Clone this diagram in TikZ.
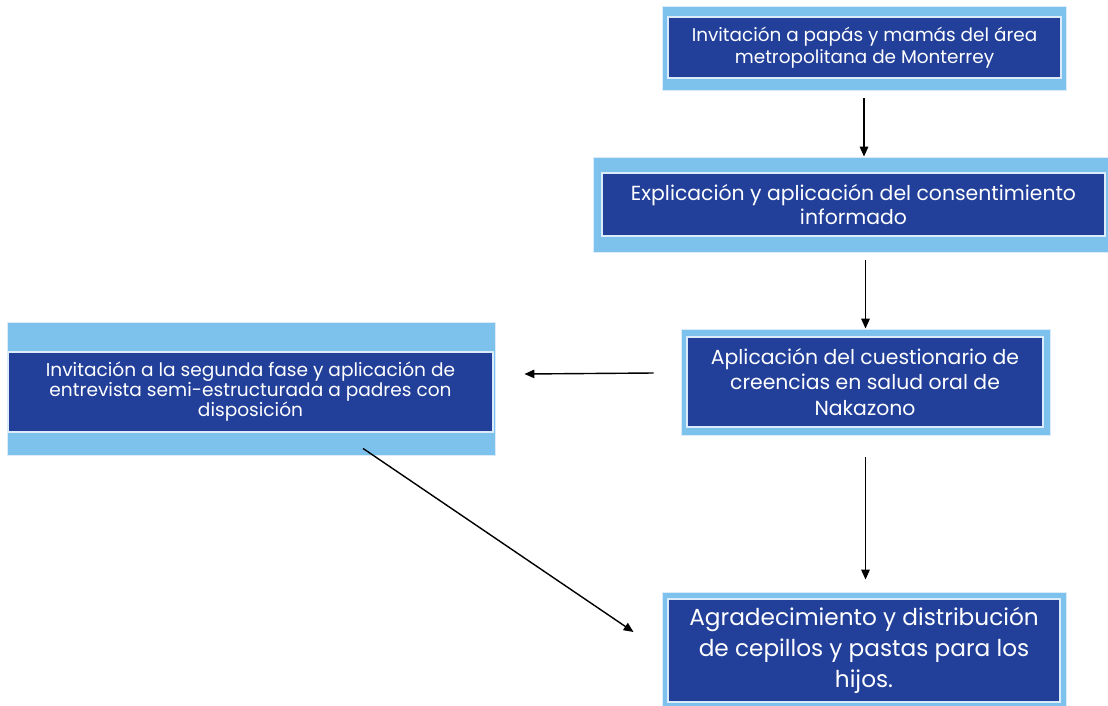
\documentclass[tikz,border=0pt]{standalone}
\usepackage{fontspec}
\setmainfont{Poppins}
\usetikzlibrary{arrows.meta}
\definecolor{flowLight}{HTML}{7DC1ED}
\definecolor{flowDark}{HTML}{22409A}
\definecolor{flowEdge}{HTML}{DCEBFA}

\begin{document}
\begin{tikzpicture}[x=0.025cm, y=-0.025cm,
  outerbox/.style={draw=flowEdge, line width=0.6pt, fill=flowLight, inner sep=0pt},
  innerbox/.style={draw=flowEdge, line width=1.2pt, fill=flowDark, text=white,
                   align=center, inner sep=0pt},
  arr/.style={-{Triangle[length=7pt,width=6pt]}, line width=1pt}]
\useasboundingbox (0,0) rectangle (1108,705);
% ---- boxes
\node[outerbox, minimum width=10.1cm, minimum height=2.1cm] (b1o) at (864,48) {};
\node[innerbox, minimum width=9.825cm, minimum height=1.525cm,
      font=\fontsize{13.1}{15.6}\selectfont] (b1) at (864.5,47.5)
      {Invitación a papás y mamás del área\\metropolitana de Monterrey};
\node[outerbox, minimum width=12.975cm, minimum height=2.375cm] (b2o) at (852.5,204.5) {};
\node[innerbox, minimum width=12.575cm, minimum height=1.575cm,
      font=\fontsize{14.5}{17}\selectfont] (b2) at (853.5,204.5)
      {Explicación y aplicación del consentimiento\\informado};
\node[outerbox, minimum width=12.2cm, minimum height=3.325cm] (b3o) at (251,388.5) {};
\node[innerbox, minimum width=12.125cm, minimum height=2cm,
      font=\fontsize{13.2}{14.2}\selectfont] (b3) at (250.5,392)
      {Invitación a la segunda fase y aplicación de\\entrevista semi-estructurada a padres con\\disposición};
\node[outerbox, minimum width=9.225cm, minimum height=2.65cm] (b4o) at (865.5,382) {};
\node[innerbox, minimum width=8.9cm, minimum height=2.25cm,
      font=\fontsize{14.5}{18.4}\selectfont] (b4) at (865,382)
      {Aplicación del cuestionario de\\creencias en salud oral de\\Nakazono};
\node[outerbox, minimum width=10.1cm, minimum height=2.9cm] (b5o) at (864,650) {};
\node[innerbox, minimum width=9.8cm, minimum height=2.575cm,
      font=\fontsize{16.5}{22}\selectfont] (b5) at (864,650.5)
      {Agradecimiento y distribución\\de cepillos y pastas para los\\hijos.};
% ---- arrows
\draw[arr, shorten <=0.2cm] (b1o.south) -- (b1o.south |- b2o.north);
\draw[arr, shorten <=0.2cm] (b4o.north |- b2o.south) -- (b4o.north);
\draw[arr] ([xshift=-0.675cm, yshift=0.225cm]b4o.west) -- ([xshift=0.725cm, yshift=0.3625cm]b3o.east);
\draw[arr, shorten <=0.55cm, shorten >=0.3cm] (b4o.south) -- (b4o.south |- b5o.north);
\draw[arr] ([xshift=2.8cm, yshift=0.175cm]b3o.south) -- ([xshift=-0.7cm, yshift=0.45cm]b5o.west);
\end{tikzpicture}
\end{document}
